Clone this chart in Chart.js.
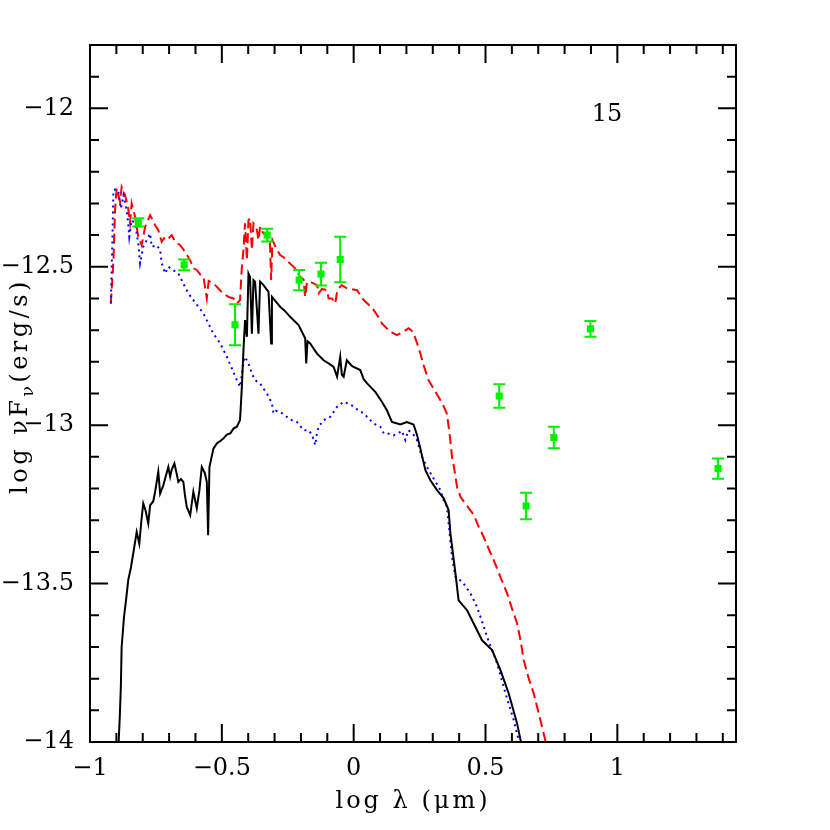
<!DOCTYPE html>
<html>
<head>
<meta charset="utf-8">
<script src="https://cdn.jsdelivr.net/npm/chart.js@4.4.0/dist/chart.umd.min.js"></script>
<style>
  html, body { margin: 0; padding: 0; background: #fff; }
  #c { display: block; }
</style>
</head>
<body>
<canvas id="c" width="830" height="830"></canvas>
<script>
// log lambda (micron) / log nuFnu (erg/s)

// total model (red dashed)
var redX = [-0.921, -0.911, -0.905, -0.899, -0.886, -0.880, -0.867, -0.856, -0.848, -0.842, -0.829, -0.817, -0.804, -0.791, -0.772, -0.753, -0.741, -0.728, -0.715, -0.703, -0.690, -0.677, -0.658, -0.639, -0.620, -0.608, -0.595, -0.582, -0.570, -0.557, -0.550, -0.538, -0.525, -0.506, -0.494, -0.475, -0.456, -0.443, -0.431, -0.424, -0.418, -0.412, -0.405, -0.399, -0.393, -0.386, -0.380, -0.374, -0.367, -0.361, -0.355, -0.342, -0.329, -0.318, -0.313, -0.308, -0.295, -0.279, -0.266, -0.253, -0.241, -0.222, -0.203, -0.190, -0.184, -0.177, -0.158, -0.139, -0.133, -0.120, -0.101, -0.095, -0.082, -0.070, -0.063, -0.057, -0.045, -0.026, -0.010, 0.013, 0.025, 0.038, 0.057, 0.076, 0.095, 0.107, 0.126, 0.139, 0.152, 0.164, 0.177, 0.189, 0.198, 0.208, 0.218, 0.227, 0.240, 0.253, 0.265, 0.284, 0.303, 0.322, 0.341, 0.354, 0.364, 0.373, 0.380, 0.392, 0.405, 0.430, 0.455, 0.474, 0.493, 0.512, 0.531, 0.557, 0.582, 0.601, 0.620, 0.633, 0.645, 0.664, 0.683, 0.705, 0.727, 0.735];
var redY = [-12.616, -12.479, -12.321, -12.253, -12.295, -12.248, -12.274, -12.310, -12.362, -12.300, -12.342, -12.405, -12.432, -12.374, -12.337, -12.369, -12.384, -12.421, -12.405, -12.411, -12.400, -12.421, -12.432, -12.453, -12.480, -12.505, -12.510, -12.524, -12.530, -12.600, -12.545, -12.550, -12.558, -12.575, -12.584, -12.595, -12.600, -12.616, -12.605, -12.500, -12.447, -12.363, -12.479, -12.353, -12.347, -12.447, -12.363, -12.370, -12.384, -12.416, -12.374, -12.395, -12.400, -12.410, -12.542, -12.416, -12.440, -12.463, -12.470, -12.479, -12.490, -12.505, -12.532, -12.540, -12.595, -12.548, -12.550, -12.558, -12.584, -12.570, -12.574, -12.600, -12.600, -12.616, -12.580, -12.568, -12.558, -12.568, -12.570, -12.574, -12.590, -12.605, -12.620, -12.637, -12.660, -12.679, -12.695, -12.705, -12.710, -12.716, -12.710, -12.705, -12.700, -12.694, -12.700, -12.710, -12.740, -12.774, -12.810, -12.858, -12.885, -12.911, -12.940, -12.965, -13.030, -13.100, -13.130, -13.195, -13.226, -13.255, -13.282, -13.320, -13.353, -13.390, -13.426, -13.480, -13.531, -13.580, -13.626, -13.680, -13.742, -13.800, -13.847, -13.920, -13.995, -14.020];

// hot component (blue dotted)
var blueX = [-0.921, -0.916, -0.911, -0.900, -0.893, -0.883, -0.873, -0.861, -0.855, -0.851, -0.842, -0.829, -0.817, -0.810, -0.798, -0.785, -0.772, -0.766, -0.747, -0.734, -0.728, -0.715, -0.703, -0.684, -0.665, -0.646, -0.627, -0.608, -0.589, -0.570, -0.551, -0.532, -0.506, -0.481, -0.462, -0.443, -0.431, -0.424, -0.418, -0.412, -0.399, -0.386, -0.374, -0.355, -0.342, -0.329, -0.310, -0.304, -0.295, -0.279, -0.253, -0.234, -0.215, -0.190, -0.171, -0.158, -0.146, -0.140, -0.133, -0.114, -0.089, -0.063, -0.038, -0.013, 0.013, 0.038, 0.063, 0.076, 0.101, 0.114, 0.126, 0.151, 0.170, 0.183, 0.196, 0.208, 0.227, 0.240, 0.259, 0.278, 0.303, 0.329, 0.341, 0.354, 0.360, 0.373, 0.386, 0.405, 0.417, 0.443, 0.468, 0.487, 0.506, 0.525, 0.544, 0.576, 0.607, 0.626, 0.630];
var blueY = [-12.616, -12.450, -12.258, -12.255, -12.260, -12.316, -12.274, -12.321, -12.363, -12.405, -12.353, -12.363, -12.426, -12.489, -12.437, -12.416, -12.395, -12.437, -12.432, -12.447, -12.489, -12.521, -12.500, -12.511, -12.521, -12.553, -12.584, -12.605, -12.626, -12.647, -12.679, -12.711, -12.742, -12.784, -12.821, -12.858, -12.879, -12.840, -12.800, -12.784, -12.805, -12.837, -12.858, -12.868, -12.885, -12.900, -12.931, -12.963, -12.955, -12.958, -12.974, -12.985, -12.990, -13.016, -13.016, -13.030, -13.063, -13.030, -13.005, -12.984, -12.974, -12.942, -12.926, -12.934, -12.950, -12.963, -12.984, -12.995, -13.005, -13.026, -13.025, -13.032, -13.025, -13.018, -13.047, -13.016, -13.030, -13.047, -13.100, -13.132, -13.168, -13.205, -13.237, -13.258, -13.310, -13.416, -13.479, -13.490, -13.500, -13.531, -13.574, -13.620, -13.668, -13.710, -13.752, -13.847, -13.931, -13.995, -14.010];

// cool component (black solid)
var blackX = [-0.892, -0.887, -0.883, -0.880, -0.871, -0.863, -0.855, -0.845, -0.836, -0.823, -0.813, -0.805, -0.798, -0.789, -0.779, -0.772, -0.760, -0.753, -0.741, -0.734, -0.722, -0.715, -0.703, -0.696, -0.690, -0.680, -0.672, -0.665, -0.655, -0.646, -0.640, -0.633, -0.620, -0.608, -0.595, -0.585, -0.576, -0.565, -0.557, -0.552, -0.547, -0.532, -0.519, -0.506, -0.494, -0.481, -0.468, -0.455, -0.443, -0.431, -0.424, -0.418, -0.412, -0.405, -0.399, -0.393, -0.386, -0.380, -0.374, -0.361, -0.355, -0.342, -0.323, -0.313, -0.310, -0.295, -0.279, -0.260, -0.241, -0.209, -0.184, -0.180, -0.175, -0.165, -0.139, -0.114, -0.095, -0.076, -0.063, -0.051, -0.045, -0.038, -0.026, -0.006, 0.025, 0.038, 0.051, 0.082, 0.107, 0.126, 0.145, 0.177, 0.202, 0.227, 0.240, 0.253, 0.272, 0.291, 0.316, 0.341, 0.360, 0.367, 0.386, 0.398, 0.430, 0.455, 0.487, 0.525, 0.557, 0.588, 0.620, 0.633, 0.636];
var blackY = [-14.010, -13.920, -13.826, -13.700, -13.605, -13.550, -13.489, -13.450, -13.405, -13.337, -13.374, -13.300, -13.247, -13.270, -13.310, -13.253, -13.240, -13.210, -13.147, -13.216, -13.190, -13.168, -13.132, -13.163, -13.140, -13.121, -13.150, -13.179, -13.170, -13.179, -13.220, -13.258, -13.284, -13.210, -13.263, -13.205, -13.132, -13.150, -13.179, -13.347, -13.132, -13.074, -13.058, -13.050, -13.042, -13.030, -13.026, -13.010, -13.005, -12.984, -12.879, -12.763, -12.668, -12.721, -12.521, -12.532, -12.711, -12.542, -12.547, -12.711, -12.547, -12.558, -12.579, -12.742, -12.595, -12.610, -12.626, -12.640, -12.658, -12.684, -12.726, -12.805, -12.735, -12.742, -12.774, -12.795, -12.805, -12.816, -12.847, -12.784, -12.840, -12.847, -12.795, -12.814, -12.826, -12.855, -12.868, -12.895, -12.926, -12.953, -12.990, -12.998, -12.990, -12.998, -13.030, -13.074, -13.142, -13.174, -13.205, -13.230, -13.268, -13.342, -13.468, -13.553, -13.584, -13.626, -13.679, -13.710, -13.774, -13.847, -13.942, -13.995, -14.010];

// photometry (green squares with errors)
var obsX = [-0.817, -0.643, -0.450, -0.328, -0.207, -0.124, -0.051, 0.552, 0.654, 0.759, 0.898, 1.382];
var obsY = [-12.360, -12.494, -12.683, -12.400, -12.542, -12.523, -12.477, -12.908, -13.255, -13.039, -12.696, -13.137];
var obsErr = [0.013, 0.017, 0.065, 0.020, 0.032, 0.036, 0.072, 0.037, 0.042, 0.034, 0.025, 0.032];

var xTickLabels = { '-1': '\u22121', '-0.5': '\u22120.5', '0': '0', '0.5': '0.5', '1': '1' };
var yTickLabels = { '-12': '\u221212', '-12.5': '\u221212.5', '-13': '\u221213', '-13.5': '\u221213.5', '-14': '\u221214' };

var FONT = "'DejaVu Serif', 'Liberation Serif', serif";
var GREEN = '#00f000';

function pts(xs, ys) {
    return xs.map(function (x, i) { return { x: x, y: ys[i] }; });
}

// frame with inward ticks, error bars and the axis titles
var decor = {
    id: 'decor',
    afterDatasetsDraw: function (chart) {
        var ctx = chart.ctx, xs = chart.scales.x, ys = chart.scales.y;
        ctx.save();
        ctx.strokeStyle = GREEN;
        ctx.lineWidth = 2;
        obsX.forEach(function (v, i) {
            var px = xs.getPixelForValue(v);
            var top = ys.getPixelForValue(obsY[i] + obsErr[i]);
            var bot = ys.getPixelForValue(obsY[i] - obsErr[i]);
            ctx.beginPath();
            ctx.moveTo(px, top); ctx.lineTo(px, bot);
            ctx.moveTo(px - 6, top); ctx.lineTo(px + 6, top);
            ctx.moveTo(px - 6, bot); ctx.lineTo(px + 6, bot);
            ctx.stroke();
        });
        ctx.restore();
    },
    afterDraw: function (chart) {
        var ctx = chart.ctx, a = chart.chartArea, xs = chart.scales.x, ys = chart.scales.y;
        ctx.save();
        ctx.strokeStyle = '#000';
        ctx.lineWidth = 2;
        ctx.strokeRect(a.left, a.top, a.right - a.left, a.bottom - a.top);
        ctx.beginPath();
        for (var i = -10; i <= 14; i++) {
            var px = xs.getPixelForValue(i / 10);
            var len = (i % 5 === 0) ? 18 : 9;
            ctx.moveTo(px, a.bottom); ctx.lineTo(px, a.bottom - len);
            ctx.moveTo(px, a.top); ctx.lineTo(px, a.top + len);
        }
        for (var j = -140; j <= -119; j++) {
            var py = ys.getPixelForValue(j / 10);
            var l2 = (j % 5 === 0) ? 18 : 9;
            ctx.moveTo(a.left, py); ctx.lineTo(a.left + l2, py);
            ctx.moveTo(a.right, py); ctx.lineTo(a.right - l2, py);
        }
        ctx.stroke();

        ctx.fillStyle = '#000';
        ctx.font = '24px ' + FONT;
        ctx.textBaseline = 'middle';
        ctx.textAlign = 'center';
        ctx.fillText('15', 607, 115);

        // x title
        ctx.letterSpacing = '3px';
        ctx.textBaseline = 'alphabetic';
        ctx.fillText('log \u03bb (\u03bcm)', 413, 808);

        // y title with subscript nu
        ctx.letterSpacing = '3.5px';
        ctx.translate(27, 386);
        ctx.rotate(-Math.PI / 2);
        var p1 = 'log \u03bdF', sub = '\u03bd', p2 = '(erg/s)';
        ctx.font = '24px ' + FONT;
        var w1 = ctx.measureText(p1).width, w3 = ctx.measureText(p2).width;
        ctx.font = '17px ' + FONT;
        var w2 = ctx.measureText(sub).width;
        var x0 = -(w1 + w2 + w3) / 2;
        ctx.textAlign = 'left';
        ctx.font = '24px ' + FONT;
        ctx.fillText(p1, x0, 0);
        ctx.font = '17px ' + FONT;
        ctx.fillText(sub, x0 + w1, 6);
        ctx.font = '24px ' + FONT;
        ctx.fillText(p2, x0 + w1 + w2, 0);
        ctx.restore();
    }
};

new Chart(document.getElementById('c'), {
    type: 'scatter',
    data: {
        datasets: [
            { data: pts(obsX, obsY), pointStyle: 'rect', pointRadius: 5, backgroundColor: GREEN, borderColor: GREEN, borderWidth: 0, showLine: false },
            { data: pts(blackX, blackY), showLine: true, borderColor: '#000', borderWidth: 2, pointRadius: 0, tension: 0 },
            { data: pts(blueX, blueY), showLine: true, borderColor: '#0000ff', borderWidth: 2, borderDash: [2, 4], pointRadius: 0, tension: 0 },
            { data: pts(redX, redY), showLine: true, borderColor: '#ff0000', borderWidth: 2, borderDash: [10, 5], pointRadius: 0, tension: 0 }
        ]
    },
    options: {
        responsive: false,
        animation: false,
        layout: { padding: { left: 0, top: 45, right: 94, bottom: 0 } },
        plugins: { legend: { display: false }, tooltip: { enabled: false } },
        scales: {
            x: {
                type: 'linear', min: -1, max: 1.45,
                grid: { display: false, drawTicks: false },
                border: { display: false },
                afterFit: function (s) { s.height = 88; },
                ticks: {
                    stepSize: 0.5, includeBounds: false, padding: 12, color: '#000',
                    font: { family: FONT, size: 24 },
                    callback: function (v) { return xTickLabels[String(v)] || ''; }
                }
            },
            y: {
                type: 'linear', min: -14, max: -11.8,
                grid: { display: false, drawTicks: false },
                border: { display: false },
                afterFit: function (s) { s.width = 90; },
                ticks: {
                    stepSize: 0.5, includeBounds: false, padding: 16, color: '#000',
                    font: { family: FONT, size: 24 },
                    callback: function (v) { return yTickLabels[String(v)] || ''; }
                }
            }
        }
    },
    plugins: [decor]
});
</script>
</body>
</html>
